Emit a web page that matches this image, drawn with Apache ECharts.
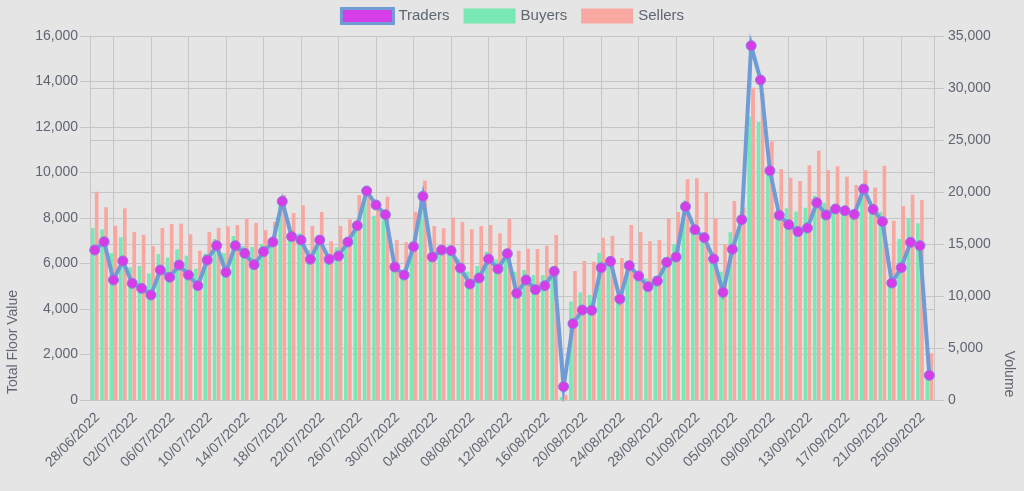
<!DOCTYPE html>
<html>
<head>
<meta charset="utf-8">
<script src="https://cdn.jsdelivr.net/npm/echarts@6/dist/echarts.min.js"></script>
<style>
  html, body { margin: 0; padding: 0; background: #e5e5e5; }
  #chart { width: 1024px; height: 491px; }
</style>
</head>
<body>
<div id="chart"></div>
<script>
const dates = [
  '28/06/2022', '29/06/2022', '30/06/2022', '01/07/2022', '02/07/2022', '03/07/2022', '04/07/2022', '05/07/2022',
  '06/07/2022', '07/07/2022', '08/07/2022', '09/07/2022', '10/07/2022', '11/07/2022', '12/07/2022', '13/07/2022',
  '14/07/2022', '15/07/2022', '16/07/2022', '17/07/2022', '18/07/2022', '19/07/2022', '20/07/2022', '21/07/2022',
  '22/07/2022', '23/07/2022', '24/07/2022', '25/07/2022', '26/07/2022', '27/07/2022', '28/07/2022', '29/07/2022',
  '30/07/2022', '31/07/2022', '01/08/2022', '03/08/2022', '04/08/2022', '05/08/2022', '06/08/2022', '07/08/2022',
  '08/08/2022', '09/08/2022', '10/08/2022', '11/08/2022', '12/08/2022', '13/08/2022', '14/08/2022', '15/08/2022',
  '16/08/2022', '17/08/2022', '18/08/2022', '19/08/2022', '20/08/2022', '21/08/2022', '22/08/2022', '23/08/2022',
  '24/08/2022', '25/08/2022', '26/08/2022', '27/08/2022', '28/08/2022', '29/08/2022', '30/08/2022', '31/08/2022',
  '01/09/2022', '02/09/2022', '03/09/2022', '04/09/2022', '05/09/2022', '06/09/2022', '07/09/2022', '08/09/2022',
  '09/09/2022', '10/09/2022', '11/09/2022', '12/09/2022', '13/09/2022', '14/09/2022', '15/09/2022', '16/09/2022',
  '17/09/2022', '18/09/2022', '19/09/2022', '20/09/2022', '21/09/2022', '22/09/2022', '23/09/2022', '24/09/2022',
  '25/09/2022', '26/09/2022'
]

const traders = [
  14420, 15220, 11540, 13370, 11220, 10740, 10100, 12500, 11800, 12980,
  12020, 10990, 13460, 14840, 12280, 14840, 14100, 13010, 14260, 15190,
  19100, 15710, 15380, 13530, 15380, 13530, 13850, 15190, 16760, 20100,
  18750, 17820, 12790, 12020, 14740, 19580, 13750, 14420, 14360, 12690,
  11150, 11730, 13560, 12600, 14070, 10260, 11540, 10610, 10990, 12370,
  1280, 7340, 8650, 8620, 12720, 13330, 9710, 12920, 11920, 10900,
  11440, 13240, 13750, 18590, 16380, 15610, 13560, 10350, 14490, 17340,
  34070, 30770, 22050, 17760, 16860, 16190, 16540, 18970, 17790, 18370,
  18200, 17850, 20290, 18330, 17150, 11250, 12720, 15160, 14840, 2370
]

const buyers = [
  16540, 16410, 14130, 15640, 12760, 12880, 12180, 14040, 13690, 14490,
  13880, 12630, 14070, 15480, 14130, 15770, 14810, 14710, 14970, 15190,
  18750, 15800, 16030, 14420, 15100, 13700, 14680, 15100, 16800, 19500,
  17720, 17310, 12980, 12180, 14740, 19710, 13780, 14420, 14100, 13560,
  12340, 12880, 14260, 13530, 13780, 12340, 12500, 12020, 12020, 12820,
  300, 9460, 10350, 10100, 14160, 13140, 9940, 13330, 12080, 11700,
  11920, 13690, 14970, 17630, 16030, 15450, 13460, 12340, 16120, 16500,
  27240, 26760, 21640, 17790, 18430, 18110, 18490, 19650, 18970, 18430,
  18270, 17790, 20190, 18270, 18110, 11540, 15480, 17500, 16990, 2240
]

const sellers = [
  20030, 18530, 16760, 18430, 16150, 15900, 14810, 16540, 16920, 16960,
  15930, 14360, 16150, 16570, 16700, 16830, 17440, 17020, 16350, 17120,
  19710, 17980, 18720, 16730, 18080, 15260, 16730, 17370, 19710, 20290,
  18430, 19550, 15380, 15160, 18110, 21090, 16730, 16510, 17530, 17120,
  16410, 16730, 16830, 16030, 17400, 14360, 14550, 14520, 14840, 15870,
  500, 12400, 13370, 13300, 15610, 15800, 13650, 16830, 16150, 15260,
  15380, 17470, 18080, 21220, 21310, 19970, 17470, 15000, 19130, 18500,
  30030, 29500, 24870, 22180, 21380, 21060, 22560, 23970, 22080, 22470,
  21470, 20670, 22080, 20420, 22530, 17240, 18650, 19740, 19230, 4490
]

const chart = echarts.init(document.getElementById('chart'))
const textColor = '#5f6572'
const gridColor = '#c6c6c6'
const fontFamily = '"Liberation Sans", Arial, sans-serif'
const everyFourth = i => i % 4 === 2

chart.setOption({
  backgroundColor: '#e5e5e5',
  animation: false,
  textStyle: { fontFamily },
  legend: {
    top: 2, left: 'center',
    icon: 'rect', itemWidth: 52, itemHeight: 15, itemGap: 14,
    textStyle: { color: textColor, fontSize: 15 },
    data: [
      { name: 'Traders', itemStyle: { color: '#d63de8', borderColor: '#6f9cd4', borderWidth: 3 } },
      { name: 'Buyers' },
      { name: 'Sellers' },
    ],
  },
  grid: { left: 90, right: 90, top: 36, bottom: 91, outerBoundsMode: 'none' },
  xAxis: {
    type: 'category', data: dates,
    axisLine: { lineStyle: { color: gridColor } },
    axisTick: { interval: everyFourth, alignWithLabel: true, length: 10, lineStyle: { color: gridColor } },
    splitLine: { show: true, interval: everyFourth, alignWithLabel: true, lineStyle: { color: gridColor } },
    axisLabel: { interval: 3, rotate: 45, color: textColor, fontSize: 14, margin: 18, padding: [38, -4, 0, 0] },
  },
  yAxis: [
    {
      type: 'value', min: 0, max: 16000, interval: 2000,
      name: 'Total Floor Value', nameLocation: 'middle', nameGap: 70,
      nameTextStyle: { color: textColor, fontSize: 14, padding: [0, 248, 0, 0] },
      axisLine: { show: true, lineStyle: { color: gridColor } },
      axisTick: { show: true, length: 10, lineStyle: { color: gridColor } },
      axisLabel: { color: textColor, fontSize: 14, margin: 12 },
      splitLine: { lineStyle: { color: gridColor } },
    },
    {
      type: 'value', min: 0, max: 35000, interval: 5000, position: 'right',
      name: 'Volume', nameLocation: 'middle', nameGap: 68, nameRotate: -90,
      nameTextStyle: { color: textColor, fontSize: 14, padding: [0, 0, 0, 312] },
      axisLine: { show: true, lineStyle: { color: gridColor } },
      axisTick: { show: true, length: 10, lineStyle: { color: gridColor } },
      axisLabel: { color: textColor, fontSize: 14, margin: 14 },
      splitLine: { lineStyle: { color: gridColor } },
    },
  ],
  series: [
    {
      name: 'Traders', type: 'line', yAxisIndex: 1, data: traders, z: 5,
      symbol: 'circle', symbolSize: 10, showAllSymbol: true,
      lineStyle: { color: '#6f9cd4', width: 4, join: 'miter', miterLimit: 10 },
      itemStyle: { color: '#d63de8', borderColor: '#8a7fe0', borderWidth: 1 },
    },
    {
      name: 'Buyers', type: 'bar', yAxisIndex: 1, data: buyers,
      barCategoryGap: '18%', barGap: '10%',
      itemStyle: { color: '#78e8b4' },
    },
    {
      name: 'Sellers', type: 'bar', yAxisIndex: 1, data: sellers,
      barCategoryGap: '18%', barGap: '10%',
      itemStyle: { color: '#f9a8a1' },
    },
  ],
})
</script>
</body>
</html>
